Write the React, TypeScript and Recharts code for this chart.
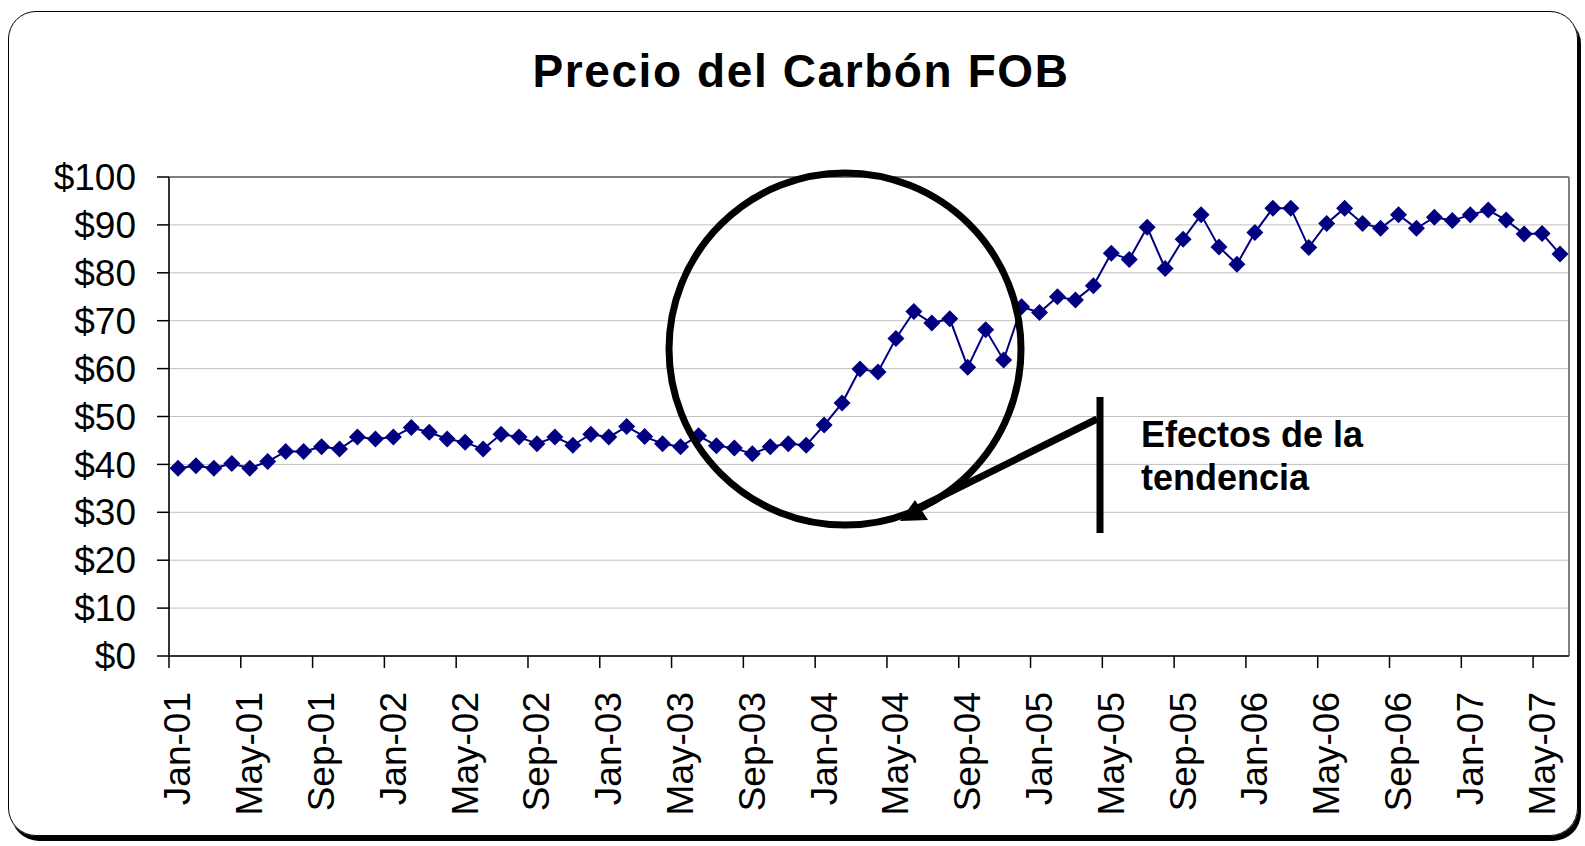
import { CartesianGrid, Line, LineChart, ReferenceLine, XAxis, YAxis } from "recharts";

const W = 1585;
const H = 846;
const FONT = "'Liberation Sans', Arial, sans-serif";

const months = [
  "Jan-01", "Feb-01", "Mar-01", "Apr-01", "May-01", "Jun-01", "Jul-01", "Aug-01", "Sep-01", "Oct-01", "Nov-01", "Dec-01",
  "Jan-02", "Feb-02", "Mar-02", "Apr-02", "May-02", "Jun-02", "Jul-02", "Aug-02", "Sep-02", "Oct-02", "Nov-02", "Dec-02",
  "Jan-03", "Feb-03", "Mar-03", "Apr-03", "May-03", "Jun-03", "Jul-03", "Aug-03", "Sep-03", "Oct-03", "Nov-03", "Dec-03",
  "Jan-04", "Feb-04", "Mar-04", "Apr-04", "May-04", "Jun-04", "Jul-04", "Aug-04", "Sep-04", "Oct-04", "Nov-04", "Dec-04",
  "Jan-05", "Feb-05", "Mar-05", "Apr-05", "May-05", "Jun-05", "Jul-05", "Aug-05", "Sep-05", "Oct-05", "Nov-05", "Dec-05",
  "Jan-06", "Feb-06", "Mar-06", "Apr-06", "May-06", "Jun-06", "Jul-06", "Aug-06", "Sep-06", "Oct-06", "Nov-06", "Dec-06",
  "Jan-07", "Feb-07", "Mar-07", "Apr-07", "May-07", "Jun-07"
];

const prices = [
  39.2, 39.7, 39.2, 40.2, 39.2, 40.6, 42.7, 42.7, 43.7, 43.2, 45.7, 45.3,
  45.7, 47.7, 46.7, 45.3, 44.6, 43.2, 46.3, 45.7, 44.3, 45.7, 44.0, 46.3,
  45.7, 47.9, 45.8, 44.3, 43.7, 46.0, 43.9, 43.4, 42.2, 43.7, 44.3, 44.0,
  48.2, 52.8, 59.9, 59.3, 66.3, 71.9, 69.5, 70.4, 60.3, 68.1, 61.8, 72.9,
  71.7, 75.0, 74.3, 77.3, 84.1, 82.8, 89.5, 80.9, 87.0, 92.1, 85.4, 81.8,
  88.4, 93.5, 93.5, 85.3, 90.3, 93.5, 90.3, 89.3, 92.1, 89.3, 91.6, 90.9,
  92.1, 93.1, 91.0, 88.1, 88.2, 83.9
];

// every fourth month gets a label
const labelMonths = [
  "Jan-01", "May-01", "Sep-01", "Jan-02", "May-02", "Sep-02", "Jan-03", "May-03", "Sep-03", "Jan-04",
  "May-04", "Sep-04", "Jan-05", "May-05", "Sep-05", "Jan-06", "May-06", "Sep-06", "Jan-07", "May-07"
];

const yTicks = [0, 10, 20, 30, 40, 50, 60, 70, 80, 90, 100];

const data = months.map((month, idx) => ({ idx, month, price: prices[idx] }));
// ticks sit on category boundaries, like an Excel category axis
const xTicks = labelMonths.map((m) => months.indexOf(m) - 0.5);

const PLOT_LEFT = 169;
const PLOT_RIGHT = 16;
const BAND = (W - PLOT_LEFT - PLOT_RIGHT) / months.length;

function MonthTick({ x, y, payload }: any) {
  const i = Math.round(payload.value + 0.5);
  const cx = x + BAND / 2;
  return (
    <text
      x={cx}
      y={y}
      transform={`rotate(-90 ${cx} ${y})`}
      textAnchor="end"
      dominantBaseline="central"
      fontSize={37}
      fontFamily={FONT}
      fill="#000"
    >
      {months[i]}
    </text>
  );
}

function Diamond({ cx, cy, index }: any) {
  const r = 8.5;
  return (
    <polygon
      key={index}
      points={`${cx},${cy - r} ${cx + r},${cy} ${cx},${cy + r} ${cx - r},${cy}`}
      fill="#000080"
    />
  );
}

export default function App() {
  return (
    <div style={{ position: "absolute", left: 0, top: 0, width: W, height: H, background: "#fff" }}>
      <div
        style={{
          position: "absolute",
          left: 8,
          top: 11,
          width: 1570,
          height: 825,
          boxSizing: "border-box",
          border: "1.5px solid #000",
          borderRadius: 28,
          boxShadow: "3px 5px 0 #000"
        }}
      />
      <div style={{ position: "absolute", left: 0, top: 0 }}>
        <LineChart width={W} height={H} data={data} margin={{ top: 177, right: PLOT_RIGHT, bottom: 0, left: 0 }}>
          <CartesianGrid stroke="#c0c0c0" vertical={false} />
          <XAxis
            type="number"
            dataKey="idx"
            domain={[-0.5, months.length - 0.5]}
            ticks={xTicks}
            interval={0}
            height={190}
            tickSize={12}
            tickMargin={24}
            axisLine={{ stroke: "#333", strokeWidth: 2 }}
            tickLine={{ stroke: "#000", strokeWidth: 1.5 }}
            tick={(props: any) => <MonthTick {...props} />}
          />
          <YAxis
            domain={[0, 100]}
            ticks={yTicks}
            interval={0}
            width={PLOT_LEFT}
            tickSize={12}
            tickMargin={21}
            axisLine={{ stroke: "#333", strokeWidth: 2 }}
            tickLine={{ stroke: "#000", strokeWidth: 1.5 }}
            tick={{ fill: "#000", fontSize: 37, fontFamily: FONT }}
            tickFormatter={(v) => `$${v}`}
          />
          <ReferenceLine y={100} stroke="#808080" strokeWidth={2} />
          <ReferenceLine x={months.length - 0.5} stroke="#808080" strokeWidth={2} />
          <Line
            type="linear"
            dataKey="price"
            stroke="#000080"
            strokeWidth={2}
            dot={(p: any) => <Diamond {...p} key={p.index} />}
            activeDot={false}
            isAnimationActive={false}
          />
        </LineChart>
      </div>
      <svg width={W} height={H} style={{ position: "absolute", left: 0, top: 0, pointerEvents: "none" }}>
        <text
          x={801}
          y={87}
          textAnchor="middle"
          fontSize={46}
          fontWeight="bold"
          letterSpacing={1.6}
          fontFamily={FONT}
          fill="#000"
        >
          Precio del Carbón FOB
        </text>
        {/* annotation: circle, pointer and label */}
        <ellipse cx={845} cy={349} rx={176} ry={176} fill="none" stroke="#000" strokeWidth={7} />
        <line x1={1097} y1={419} x2={912} y2={511} stroke="#000" strokeWidth={7} />
        <polygon points="900,521 915,500 928,520" fill="#000" />
        <line x1={1100} y1={397} x2={1100} y2={533} stroke="#000" strokeWidth={7} />
        <text x={1141} y={447} fontSize={36} fontWeight="bold" fontFamily={FONT} fill="#000">
          Efectos de la
        </text>
        <text x={1141} y={490} fontSize={36} fontWeight="bold" fontFamily={FONT} fill="#000">
          tendencia
        </text>
      </svg>
    </div>
  );
}
